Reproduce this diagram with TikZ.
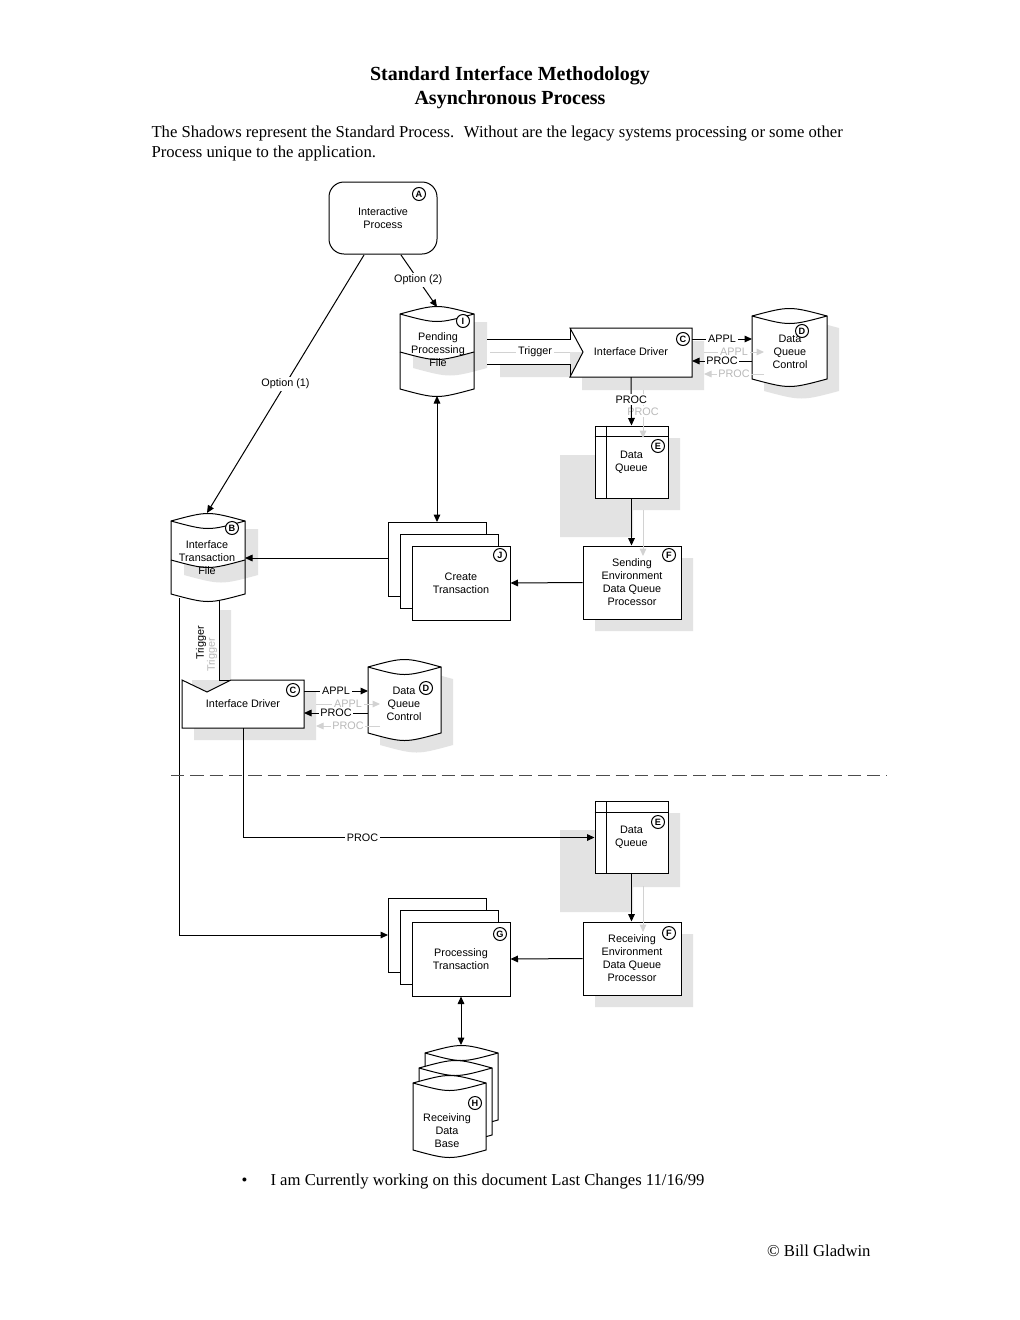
\documentclass[tikz,border=0pt]{standalone}
\usepackage{fontspec}
\setmainfont{Liberation Serif}
\newfontfamily\diafont{Liberation Sans}
\usetikzlibrary{arrows.meta}

% drum with lens top: x0, x1, top, bottom
\newcommand\drum[4]{%
  \filldraw[fill=white] (#1,#3) .. controls ({(#1+#2)/2},#3-10) .. (#2,#3)
    -- (#2,#4) .. controls ({(#1+#2)/2},#4+10) .. (#1,#4) -- cycle;
  \draw (#1,#3) .. controls ({(#1+#2)/2},#3+10) .. (#2,#3);}
\newcommand\drumshadow[4]{%
  \fill[shadowfill] (#1,#3) .. controls ({(#1+#2)/2},#3-10) .. (#2,#3)
    -- (#2,#4) .. controls ({(#1+#2)/2},#4+10) .. (#1,#4) -- cycle;}
% file with a band: x0, x1, top, band, bottom
\newcommand\bandfile[5]{%
  \fill[white] (#1,#3) .. controls ({(#1+#2)/2},#3-10) .. (#2,#3)
    -- (#2,#4) .. controls ({(#1+#2)/2},#4+10) .. (#1,#4) -- cycle;
  \draw (#1,#3) .. controls ({(#1+#2)/2},#3-10) .. (#2,#3)
    -- (#2,#5) .. controls ({(#1+#2)/2},#5+10) .. (#1,#5) -- cycle;
  \draw (#1,#3) .. controls ({(#1+#2)/2},#3+10) .. (#2,#3);
  \draw (#1,#4) .. controls ({(#1+#2)/2},#4+10) .. (#2,#4);}

\begin{document}
\begin{tikzpicture}[x=0.6pt,y=-0.6pt,line width=0.6pt,
  lbl/.style={font=\diafont\fontsize{6.5}{7.8}\selectfont,align=center,inner sep=0.5pt},
  onln/.style={lbl,fill=white,inner sep=1pt},
  ghostlbl/.style={onln,text=gray!55},
  tag/.style={circle,draw,fill=white,inner sep=0pt,minimum size=7.8pt,
    font=\diafont\bfseries\fontsize{5.5}{6}\selectfont},
  shadowfill/.style={fill=gray!22},
  ghost/.style={draw=gray!35},
  procbox/.style={lbl,draw,fill=white,minimum width=58.8pt,minimum height=43.8pt},
  qbox/.style={lbl,draw,fill=white,minimum width=43.8pt,minimum height=43.2pt},
  arr/.style={-{Triangle[length=4.5pt,width=4pt]}},
  darr/.style={{Triangle[length=4.5pt,width=4pt]}-{Triangle[length=4.5pt,width=4pt]}},
  sepline/.style={draw=black!70,dash pattern=on 8pt off 3.6pt},
  body/.style={font=\fontsize{10}{12}\selectfont,inner sep=0pt}]
\fill[white] (0,0) rectangle (1020,1320);
\useasboundingbox (0,0) rectangle (1020,1320);

% heading
\node[font=\bfseries\fontsize{12}{14.4}\selectfont,align=center] (title) at (510,88)
  {Standard Interface Methodology\\Asynchronous Process};
\node[body,anchor=north west,align=left] (intro) at (151,125)
  {The Shadows represent the Standard Process.~ Without are the legacy systems processing or some other\\Process unique to the application.};

% shadows
\drumshadow{764}{839}{328}{391}
\drumshadow{380}{453}{679}{745}
\fill[shadowfill] (413,322) -- (487,322) -- (487,368) .. controls (450,378) .. (413,368) -- cycle;
\fill[shadowfill] (184,529) -- (258,529) -- (258,575) .. controls (221,585) .. (184,575) -- cycle;
\fill[shadowfill] (500,352) -- (582,352) -- (582,341) -- (704,341) -- (704,390) -- (582,390) -- (582,377) -- (500,377) -- cycle;
\fill[shadowfill] (192,610) -- (231,610) -- (231,692) -- (316,692) -- (316,740) -- (194,740) -- (194,692) -- (192,692) -- cycle;
\fill[shadowfill] (607,438) rectangle (680,510) (560,455) rectangle (633,537) (595,558) rectangle (693,631);
\fill[shadowfill] (607,813) rectangle (680,887) (560,830) rectangle (633,912) (595,934) rectangle (693,1007);

% shapes
\node[lbl,draw,fill=white,rounded corners=9pt,minimum width=64.8pt,minimum height=43.2pt] (A) at (383,218) {Interactive\\Process};
\bandfile{400}{474}{314}{352}{389}
\fill[white] (180,600) rectangle (219,680);
\bandfile{171}{245}{521}{560}{594}
\fill[white] (487,339) rectangle (570,364);
\draw[ghost] (490,352) -- (570,352);
\draw (487,339) -- (570,339) -- (570,328) (487,364) -- (570,364) -- (570,377);
\filldraw[fill=white] (570,328) -- (692,328) -- (692,377) -- (570,377) -- (583,352) -- cycle;
\draw (219,600) -- (219,680) -- (231,680);
\filldraw[fill=white] (182,680) -- (207,692) -- (231,680) -- (304,680) -- (304,728) -- (182,728) -- cycle;
\drum{752}{827}{316}{379}
\drum{368}{441}{667}{733}
\node[qbox] (E1) at (631.5,462) {Data\\Queue};
\node[qbox] (E2) at (631.5,837.5) {Data\\Queue};
\foreach \q in {E1,E2}{
  \draw ([yshift=-6.6pt]\q.north west) -- ([yshift=-6.6pt]\q.north east);
  \draw ([xshift=7.2pt]\q.north west) -- ([xshift=7.2pt]\q.south west);}
\node[procbox] (F1) at (632,582.5) {Sending\\Environment\\Data Queue\\Processor};
\node[procbox] (F2) at (632,958.5) {Receiving\\Environment\\Data Queue\\Processor};
\foreach \d in {0,12}{
  \filldraw[fill=white] (388+\d,522+\d) rectangle (486+\d,596+\d);
  \filldraw[fill=white] (388+\d,898+\d) rectangle (486+\d,972+\d);}
\node[procbox,minimum height=44.4pt] (J) at (461,583) {Create\\Transaction};
\node[procbox,minimum height=44.4pt] (G) at (461,959) {Processing\\Transaction};
\foreach \dx/\dy in {12/0,6/15,0/30}{\drum{413+\dx}{486+\dx}{1053+\dy}{1120+\dy}}

% texts in drawn shapes
\node[lbl] (Itxt) at (438,350) {Pending\\Processing\\File};
\node[lbl] (Btxt) at (207,558) {Interface\\Transaction\\File};
\node[lbl] (C1txt) at (631,352) {Interface Driver};
\node[lbl] (C2txt) at (243,704) {Interface Driver};
\node[lbl] (D1txt) at (790,352) {Data\\Queue\\Control};
\node[lbl] (D2txt) at (404,704) {Data\\Queue\\Control};
\node[lbl] (Htxt) at (447,1131) {Receiving\\Data\\Base};
\node[lbl,text=gray!55,rotate=90] (trigGhost) at (212,655) {Trigger};
\node[lbl,rotate=90] (trigTwo) at (201,643) {Trigger};
\node[onln] (trigOne) at (535,352) {Trigger};

% ghost connectors
\coordinate (gA1) at (704,352); \coordinate (gA2) at (764,352);
\coordinate (gP1) at (764,374); \coordinate (gP2) at (704,374);
\coordinate (gA3) at (316,704); \coordinate (gA4) at (380,704);
\coordinate (gP3) at (380,726); \coordinate (gP4) at (316,726);
\coordinate (gE1) at (643,390); \coordinate (gE2) at (643,438);
\coordinate (gF1) at (643,510); \coordinate (gF2) at (643,556);
\coordinate (gF3) at (643,886); \coordinate (gF4) at (643,932);
\draw[ghost,arr] (gA1) -- node[ghostlbl] (applG1) {APPL} (gA2);
\draw[ghost,arr] (gP1) -- node[ghostlbl] (procG1) {PROC} (gP2);
\draw[ghost,arr] (gA3) -- node[ghostlbl] (applG2) {APPL} (gA4);
\draw[ghost,arr] (gP3) -- node[ghostlbl] (procG2) {PROC} (gP4);
\draw[ghost,arr] (gE1) -- node[ghostlbl,pos=.45] (procG3) {PROC} (gE2);
\draw[ghost,arr] (gF1) -- (gF2);
\draw[ghost,arr] (gF3) -- (gF4);

% connectors
\coordinate (aOne) at (364,255); \coordinate (aTwo) at (401,255);
\coordinate (iTop) at (437,307); \coordinate (iBot) at (437,396);
\coordinate (bTop) at (207,513); \coordinate (bRight) at (245,558);
\coordinate (bBot) at (179,598);
\coordinate (jTop) at (437,522); \coordinate (jLeft) at (388,558);
\coordinate (gLeft) at (388,935); \coordinate (hTop) at (461,1045);
\coordinate (cOneA) at (692,339); \coordinate (dOneA) at (752,339);
\coordinate (cOneP) at (692,361); \coordinate (dOneP) at (752,361);
\coordinate (cOneB) at (631,377);
\coordinate (cTwoA) at (304,691); \coordinate (dTwoA) at (368,691);
\coordinate (cTwoP) at (304,713); \coordinate (dTwoP) at (368,713);
\coordinate (cTwoB) at (243,728);
\draw[arr] (aOne) -- node[onln,pos=.5] (optOne) {Option (1)} (bTop);
\draw[arr] (aTwo) -- node[onln,pos=.48] (optTwo) {Option (2)} (iTop);
\draw[arr] (cOneA) -- node[onln] (applOne) {APPL} (dOneA);
\draw[arr] (dOneP) -- node[onln] (procOne) {PROC} (cOneP);
\draw[arr] (cOneB) -- node[onln,pos=.47] (procDown) {PROC} (E1.north);
\draw[arr] (E1.south) -- (E1.south |- F1.north);
\draw[arr] (F1.west) -- (J.east);
\draw[arr] (jLeft) -- (bRight);
\draw[darr] (iBot) -- (jTop);
\draw[arr] (cTwoA) -- node[onln] (applTwo) {APPL} (dTwoA);
\draw[arr] (dTwoP) -- node[onln] (procTwo) {PROC} (cTwoP);
\draw[arr] (cTwoB) |- node[onln,pos=.67] (procLow) {PROC} (E2.west);
\draw[arr] (bBot) |- (gLeft);
\draw[arr] (E2.south) -- (E2.south |- F2.north);
\draw[arr] (F2.west) -- (G.east);
\draw[darr] (G.south) -- (hTop);

% tags
\node[tag] (tA) at (419,194) {A};
\node[tag] (tI) at (463,321) {I};
\node[tag] (tC1) at (683,339) {C};
\node[tag] (tD1) at (802,331) {D};
\node[tag] (tE1) at (658,446) {E};
\node[tag] (tF1) at (669,555) {F};
\node[tag] (tB) at (232,528) {B};
\node[tag] (tJ) at (500,555) {J};
\node[tag] (tC2) at (293,690) {C};
\node[tag] (tD2) at (426,688) {D};
\node[tag] (tE2) at (658,822) {E};
\node[tag] (tF2) at (669,933) {F};
\node[tag] (tG) at (500,934) {G};
\node[tag] (tH) at (475,1103) {H};

% separator and notes
\coordinate (sepL) at (171,775); \coordinate (sepR) at (887,775);
\draw[sepline] (sepL) -- (sepR);
\node[body,anchor=base west] (bul) at (241,1185) {\textbullet};
\node[body,anchor=base west] (note) at (270,1185) {I am Currently working on this document Last Changes 11/16/99};
\node[body,anchor=base east] (copy) at (871,1256) {\textcopyright{} Bill Gladwin};
\end{tikzpicture}
\end{document}
